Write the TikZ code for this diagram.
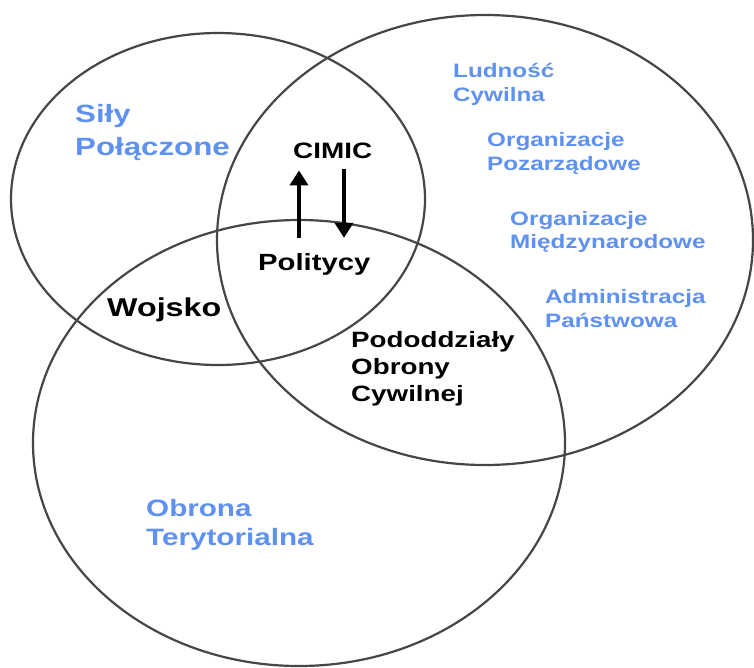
\documentclass[tikz,border=0pt]{standalone}
\usepackage{fontspec}
\newfontfamily\lab[FakeStretch=1.25]{Liberation Sans}
\usetikzlibrary{arrows.meta}
\definecolor{lblue}{RGB}{95,145,240}
\definecolor{ringc}{RGB}{70,70,70}
\begin{document}
\begin{tikzpicture}[x=1pt,y=-1pt,
  ringline/.style={draw=ringc, line width=2.2pt},
  lbl/.style={inner sep=0pt, anchor=base west, align=left},
  blu/.style={lbl, text=lblue},
  blk/.style={lbl, text=black},
  arr/.style={line width=3.8pt, -{Triangle[width=18pt,length=15pt]}}]
\useasboundingbox (0,0) rectangle (754,667);
\fill[white] (0,0) rectangle (754,667);
% rings
\draw[ringline] (218,199) ellipse [x radius=207pt, y radius=166pt];
\draw[ringline] (485,240) ellipse [x radius=268pt, y radius=225pt];
\draw[ringline] (299,443) ellipse [x radius=266pt, y radius=223pt];
% blue labels (anchored at the baseline of the last line)
\node[blu, font=\lab\bfseries\fontsize{25}{33}\selectfont] (sily) at (75,155) {Siły\\Połączone};
\node[blu, font=\lab\bfseries\fontsize{19.4}{23.5}\selectfont] (ludnosc) at (453,101) {Ludność\\Cywilna};
\node[blu, font=\lab\bfseries\fontsize{19.4}{23.5}\selectfont] (ngo) at (487,170) {Organizacje\\Pozarządowe};
\node[blu, font=\lab\bfseries\fontsize{19.4}{23.5}\selectfont] (io) at (510,248.5) {Organizacje\\Międzynarodowe};
\node[blu, font=\lab\bfseries\fontsize{19.4}{23.5}\selectfont] (adm) at (545,327) {Administracja\\Państwowa};
\node[blu, font=\lab\bfseries\fontsize{23.7}{29}\selectfont] (ot) at (146,545) {Obrona\\Terytorialna};
% black labels
\node[blk, font=\lab\bfseries\fontsize{25.8}{30}\selectfont] (wojsko) at (107,316.5) {Wojsko};
\node[blk, font=\lab\bfseries\fontsize{22.2}{27}\selectfont] (pod) at (351,401) {Pododdziały\\Obrony\\Cywilnej};
\node[blk, font=\lab\bfseries\fontsize{22.3}{27}\selectfont] (cimic) at (293,158) {CIMIC};
\node[blk, font=\lab\bfseries\fontsize{23.4}{28}\selectfont] (pol) at (258,270) {Politycy};
% arrows
\coordinate (upb) at ([xshift=41pt]pol.north west);
\coordinate (dnb) at ([xshift=51pt]cimic.south west);
\draw[arr, shorten <=15pt, shorten >=12pt] (upb) -- (upb |- cimic.south);
\draw[arr, shorten <=11pt, shorten >=15pt] (dnb) -- (dnb |- pol.north);
\end{tikzpicture}
\end{document}
